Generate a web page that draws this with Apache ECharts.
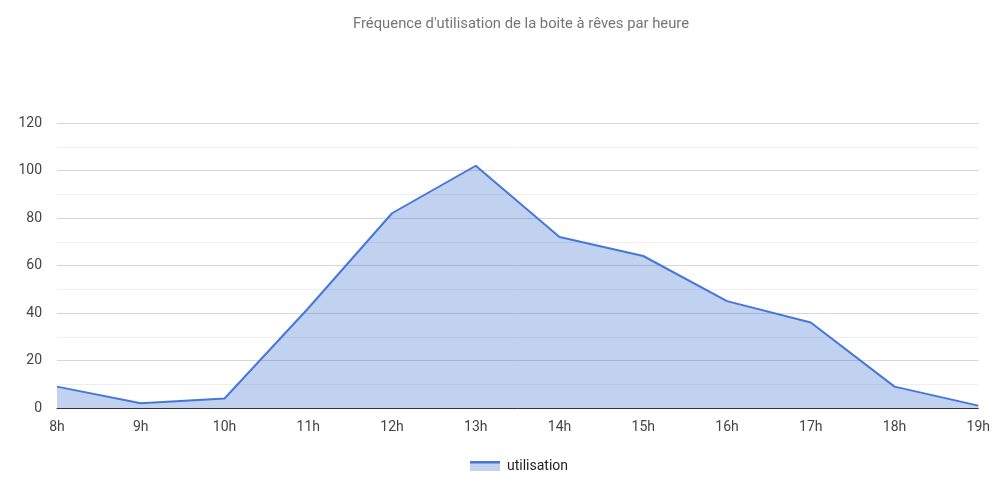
<!DOCTYPE html>
<html><head><meta charset="utf-8">
<script src="https://cdn.jsdelivr.net/npm/echarts@6/dist/echarts.min.js"></script>
<style>html,body{margin:0;padding:0;background:#fff}#c{width:993px;height:491px}</style>
</head><body><div id="c"></div>
<script>
const categories = ['8h','9h','10h','11h','12h','13h','14h','15h','16h','17h','18h','19h'];
const utilisation = [9, 2, 4, 42, 82, 102, 72, 64, 45, 36, 9, 1];
const titleText = "Fréquence d'utilisation de la boite à rêves par heure";
const seriesName = 'utilisation';

const iconSvg = '<svg xmlns="http://www.w3.org/2000/svg" width="30" height="10"><rect x="0" y="0" width="30" height="10" fill="#c2d1f0"/><rect x="0" y="0" width="30" height="2.5" fill="#4777d8"/></svg>';
const icon = 'image://data:image/svg+xml;charset=utf-8,' + encodeURIComponent(iconSvg);

const chart = echarts.init(document.getElementById('c'));
chart.setOption({
  animation: false,
  textStyle: {fontFamily: 'Roboto'},
  title: {text: titleText, left: 348, top: 12,
    textStyle: {fontSize: 14.8, fontWeight: 'normal', color: '#757575', fontFamily: 'Roboto'}},
  legend: {bottom: 13, left: 465, itemWidth: 30, itemHeight: 10, itemGap: 10,
    textStyle: {fontSize: 14, color: '#222', fontFamily: 'Roboto', padding: [0, 0, 0, 2]},
    data: [{name: seriesName, icon: icon}]},
  grid: {left: 57, right: 8, top: 123, bottom: 83},
  xAxis: {type: 'category', data: categories, boundaryGap: false,
    axisLine: {lineStyle: {color: '#333', width: 1}}, axisTick: {show: false},
    axisLabel: {color: '#444', fontSize: 14, margin: 12}, splitLine: {show: false}},
  yAxis: {type: 'value', min: 0, max: 120, interval: 10,
    axisLine: {show: false}, axisTick: {show: false},
    axisLabel: {color: '#444', fontSize: 14, margin: 15,
      formatter: v => (v % 20 === 0 ? String(v) : '')},
    splitLine: {lineStyle: {color: ['#d6d6d6', '#eeeeee'], width: 1}}},
  series: [{name: seriesName, type: 'line', data: utilisation, symbol: 'none',
    lineStyle: {color: '#4777d8', width: 2}, itemStyle: {color: '#4777d8'},
    areaStyle: {color: '#3366cc', opacity: 0.3}}]
});
</script></body></html>
